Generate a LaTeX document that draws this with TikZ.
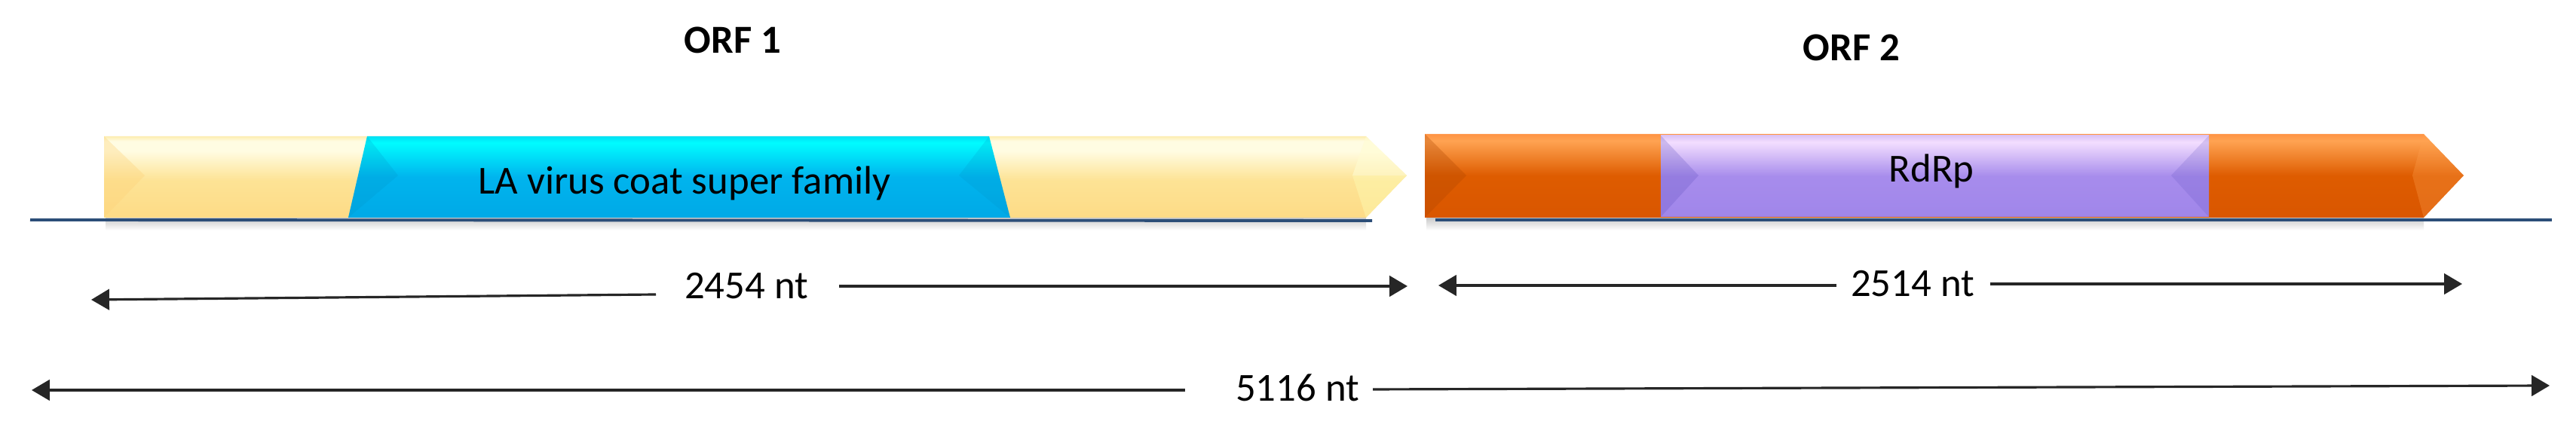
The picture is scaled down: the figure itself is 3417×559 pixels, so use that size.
\documentclass[tikz,border=0pt]{standalone}
\usepackage{fontspec}
\setmainfont{Carlito}
\usetikzlibrary{arrows.meta}
\definecolor{ylB}{HTML}{FDDB86}
\definecolor{ylM}{HTML}{FDE395}
\definecolor{ylH}{HTML}{FFFCE2}
\definecolor{ylT}{HTML}{FDEDB0}
\definecolor{blB}{HTML}{00A9E6}
\definecolor{blM}{HTML}{00B4EE}
\definecolor{blH}{HTML}{00FCFF}
\definecolor{blT}{HTML}{00E0F4}
\definecolor{orB}{HTML}{D95600}
\definecolor{orM}{HTML}{DE5C00}
\definecolor{orH}{HTML}{FFA352}
\definecolor{orT}{HTML}{FF9444}
\definecolor{puB}{HTML}{A086EA}
\definecolor{puM}{HTML}{A78CEC}
\definecolor{puH}{HTML}{F3DEFF}
\definecolor{puT}{HTML}{DCC4F6}
\definecolor{baseblue}{HTML}{2C4E78}
\pgfdeclareverticalshading{yellowsh}{100bp}{color(0bp)=(ylB); color(25bp)=(ylB); color(48bp)=(ylM); color(66bp)=(ylH); color(72bp)=(ylH); color(75bp)=(ylT); color(100bp)=(ylT)}
\pgfdeclareverticalshading{bluesh}{100bp}{color(0bp)=(blB); color(25bp)=(blB); color(50bp)=(blM); color(71bp)=(blH); color(75bp)=(blT); color(100bp)=(blT)}
\pgfdeclareverticalshading{orangesh}{100bp}{color(0bp)=(orB); color(25bp)=(orB); color(50bp)=(orM); color(71bp)=(orH); color(75bp)=(orT); color(100bp)=(orT)}
\pgfdeclareverticalshading{purplesh}{100bp}{color(0bp)=(puB); color(25bp)=(puB); color(50bp)=(puM); color(71bp)=(puH); color(75bp)=(puT); color(100bp)=(puT)}
\tikzset{
  txt/.style={inner sep=0pt, font=\fontsize{15}{18}\selectfont},
  orflabel/.style={txt, font=\fontsize{15}{18}\selectfont\bfseries},
  dimarrow/.style={draw=black!85, line width=0.9pt, -{Triangle[length=6.8pt,width=7.8pt]}},
  baseline line/.style={draw=baseblue, line width=1.1pt},
  shadowbox/.style={top color=black!35, bottom color=white, draw=none, opacity=0.6},
  bevel/.style={draw=none},
}
\begin{document}
\begin{tikzpicture}[x=0.01cm,y=-0.01cm]
\useasboundingbox[fill=white] (0,0) rectangle (3417,559);

% shadows under bars
\shade[shadowbox] (140,289) rectangle (1812,306);
\shade[shadowbox] (1892,289) rectangle (3215,306);

% ORF1 bar
\shade[shading=yellowsh] (138,181) -- (1812,181) -- (1866,233) -- (1812,289) -- (138,289) -- cycle;
\fill[bevel, fill=ylB!90!orange, opacity=0.35] (138,181) -- (192,233) -- (138,289) -- cycle;
\fill[bevel, fill=yellow!30!white, opacity=0.45] (1812,181) -- (1866,233) -- (1812,289) -- (1794,233) -- cycle;
\fill[bevel, fill=white, opacity=0.25] (1812,181) -- (1866,233) -- (1794,233) -- cycle;
\shade[shading=bluesh] (487,181) -- (1312,181) -- (1340,289) -- (462,289) -- cycle;
\fill[bevel, fill=blB!85!black, opacity=0.2] (487,181) -- (528,233) -- (462,289) -- cycle;
\fill[bevel, fill=blB!85!black, opacity=0.18] (1312,181) -- (1272,233) -- (1340,289) -- cycle;

% ORF2 bar
\shade[shading=orangesh] (1890,178) -- (3215,178) -- (3268,233) -- (3215,289) -- (1890,289) -- cycle;
\fill[bevel, fill=orB!80!black, opacity=0.3] (1890,178) -- (1945,233) -- (1890,289) -- cycle;
\fill[bevel, fill=orH, opacity=0.3] (3215,178) -- (3268,233) -- (3215,289) -- (3200,233) -- cycle;
\shade[shading=purplesh] (2203,180) -- (2930,180) -- (2930,288) -- (2203,288) -- cycle;
\fill[bevel, fill=puB!75!blue!80!black, opacity=0.25] (2203,180) -- (2253,233) -- (2203,288) -- cycle;
\fill[bevel, fill=puB!75!blue!80!black, opacity=0.2] (2930,180) -- (2880,233) -- (2930,288) -- cycle;

% baseline
\coordinate (b1s) at (40,292);
\coordinate (b1e) at (1820,293);
\coordinate (b2s) at (1904,292);
\coordinate (b2e) at (3385,292);
\draw[baseline line] (b1s) -- (b1e);
\draw[baseline line] (b2s) -- (b2e);

% labels
\node[orflabel] (orf1) at (972,53) {ORF 1};
\node[orflabel] (orf2) at (2456,63) {ORF 2};
\node[txt] (coat) at (908,243) {LA virus coat super family};
\node[txt] (rdrp) at (2562,227) {RdRp};

% dimension arrows
\node[txt] (n2454) at (990,380) {2454 nt};
\coordinate (a1ls) at (870,391);
\coordinate (a1le) at (121,398);
\coordinate (a1rs) at (1113,380);
\coordinate (a1re) at (1867,380);
\draw[dimarrow] (a1ls) -- (a1le);
\draw[dimarrow] (a1rs) -- (a1re);

\node[txt] (n2514) at (2537,377) {2514 nt};
\coordinate (a2ls) at (2436,379);
\coordinate (a2le) at (1908,379);
\coordinate (a2rs) at (2640,377);
\coordinate (a2re) at (3266,377);
\draw[dimarrow] (a2ls) -- (a2le);
\draw[dimarrow] (a2rs) -- (a2re);

\node[txt] (n5116) at (1721,515) {5116 nt};
\coordinate (a3ls) at (1572,518);
\coordinate (a3le) at (42,518);
\coordinate (a3rs) at (1821,517);
\coordinate (a3re) at (3382,512);
\draw[dimarrow] (a3ls) -- (a3le);
\draw[dimarrow] (a3rs) -- (a3re);
\end{tikzpicture}
\end{document}
